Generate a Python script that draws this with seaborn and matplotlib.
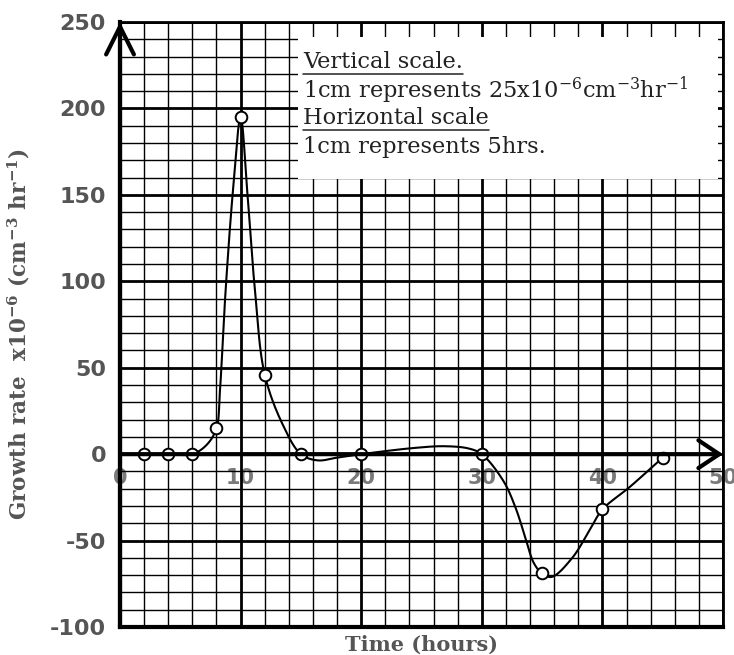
import numpy as np
import pandas as pd
import matplotlib
matplotlib.use("Agg")
import matplotlib.pyplot as plt
from matplotlib.lines import Line2D
import seaborn as sns

# measured points (hours, growth rate x10^-6)
time_h = [2, 4, 6, 8, 10, 12, 15, 20, 30, 35, 40, 45]
growth = [0, 0, 0, 15, 195, 46, 0, 0, 0, -69, -32, -2]

# hand-drawn curve (goes through the points)
curve_t = [2, 4, 6, 7.2, 8, 8.28, 8.75, 9.36, 10, 10.55, 11.2, 12, 13.5, 15, 16.4, 18, 20,
           24.4, 26.9, 28.9, 30, 31.8, 32.8, 33.6, 34.3, 35, 35.8, 37.5, 38.9, 40, 42.2, 45]
curve_g = [0, 0, 0, 5.5, 15, 36, 94, 152, 195, 152, 94, 46, 17, 0, -3.6, -2, 0,
           3.6, 4.6, 3.3, 0, -15.6, -31, -48, -62.8, -69, -71, -60, -44.5, -32, -19.4, -2]

xtick_labels = ["0", "10", "20", "30", "40", "50"]
yticks = [-100, -50, 0, 50, 100, 150, 200, 250]

note_lines = ["Vertical scale.",
              r"1cm represents 25x10$^{\mathregular{-6}}$cm$^{\mathregular{-3}}$hr$^{\mathregular{-1}}$",
              "Horizontal scale",
              "1cm represents 5hrs."]
note_underline = [True, False, True, False]


def smooth(px, py, n=25, yscale=1 / 7.0):
    # centripetal catmull-rom, just for drawing the hand curve smoothly
    pts = np.column_stack([np.asarray(px, float), np.asarray(py, float) * yscale])
    p = np.vstack([2 * pts[0] - pts[1], pts, 2 * pts[-1] - pts[-2]])
    out = []
    for i in range(1, len(p) - 2):
        p0, p1, p2, p3 = p[i - 1], p[i], p[i + 1], p[i + 2]
        t0 = 0.0
        t1 = t0 + np.linalg.norm(p1 - p0) ** 0.5
        t2 = t1 + np.linalg.norm(p2 - p1) ** 0.5
        t3 = t2 + np.linalg.norm(p3 - p2) ** 0.5
        t = np.linspace(t1, t2, n)[:, None]
        a1 = (t1 - t) / (t1 - t0) * p0 + (t - t0) / (t1 - t0) * p1
        a2 = (t2 - t) / (t2 - t1) * p1 + (t - t1) / (t2 - t1) * p2
        a3 = (t3 - t) / (t3 - t2) * p2 + (t - t2) / (t3 - t2) * p3
        b1 = (t2 - t) / (t2 - t0) * a1 + (t - t0) / (t2 - t0) * a2
        b2 = (t3 - t) / (t3 - t1) * a2 + (t - t1) / (t3 - t1) * a3
        c = (t2 - t) / (t2 - t1) * b1 + (t - t1) / (t2 - t1) * b2
        out.append(c)
    out = np.vstack(out)
    return out[:, 0], out[:, 1] / yscale


sns.set_theme(style="white")
plt.rcParams["axes.unicode_minus"] = False
plt.rcParams["mathtext.fontset"] = "dejavuserif"

fig = plt.figure(figsize=(7.34, 6.55), dpi=100)
ax = fig.add_axes([0.1635, 0.0427, 0.8215, 0.9237])

cx, cy = smooth(curve_t, curve_g)
df_curve = pd.DataFrame({"time": cx, "rate": cy})
df_pts = pd.DataFrame({"time": time_h, "rate": growth})

sns.lineplot(data=df_curve, x="time", y="rate", sort=False, estimator=None,
             color="black", lw=1.5, ax=ax, zorder=6)
sns.scatterplot(data=df_pts, x="time", y="rate", s=70, color="white",
                edgecolor="black", linewidth=1.4, ax=ax, zorder=7)

ax.set_xlim(0, 50)
ax.set_ylim(-100, 250)

# graph paper grid
ax.set_xticks(np.arange(0, 51, 10))
ax.set_xticks(np.arange(0, 51, 2), minor=True)
ax.set_yticks(yticks)
ax.set_yticks(np.arange(-100, 251, 10), minor=True)
ax.grid(which="major", color="black", lw=2.0, zorder=1)
ax.grid(which="minor", color="black", lw=1.0, zorder=1)
ax.set_axisbelow(True)
ax.tick_params(axis="x", which="both", length=0, labelbottom=False)
ax.tick_params(axis="y", which="major", length=4, width=2, color="black",
               direction="out", pad=6, labelsize=16, labelcolor="#555555")
ax.tick_params(axis="y", which="minor", length=0)
for lab in ax.get_yticklabels():
    lab.set_fontweight("bold")

for side in ["top", "right"]:
    ax.spines[side].set_linewidth(2)
    ax.spines[side].set_color("black")
for side in ["left", "bottom"]:
    ax.spines[side].set_linewidth(3)
    ax.spines[side].set_color("black")

# x tick labels sit under the zero line
sec = ax.secondary_xaxis(100 / 350)
sec.set_xticks(np.arange(0, 51, 10))
sec.set_xticklabels(xtick_labels, fontsize=15, fontweight="bold", color="#7a7a7a")
sec.tick_params(length=0, pad=10)
sec.spines["bottom"].set_visible(False)

# axes with arrows
ax.annotate("", xy=(0, 250), xytext=(0, -100),
            arrowprops=dict(arrowstyle="->,head_length=1.0,head_width=0.5",
                            lw=3, color="black", mutation_scale=20, shrinkA=0, shrinkB=0),
            zorder=8, annotation_clip=False)
ax.annotate("", xy=(50, 0), xytext=(0, 0),
            arrowprops=dict(arrowstyle="->,head_length=0.75,head_width=0.5",
                            lw=3, color="black", mutation_scale=20, shrinkA=0, shrinkB=0),
            zorder=8, annotation_clip=False)

ax.set_xlabel("Time (hours)", fontsize=15, fontweight="bold", color="#555555",
              family="DejaVu Serif")
ax.xaxis.set_label_coords(0.5, -0.013)
ax.xaxis.label.set_va("top")
ax.set_ylabel(r"Growth rate  x10$^{\mathregular{-6}}$ (cm$^{\mathregular{-3}}$ hr$^{\mathregular{-1}}$)",
              fontsize=15.5, fontweight="bold", color="#555555", family="DejaVu Serif")
ax.yaxis.set_label_coords(-0.146, 0.485)

# scale note box
ax.add_patch(plt.Rectangle((14.8, 159.4), 34.8, 82.0, facecolor="white",
                           edgecolor="none", zorder=3))
note_y = [227, 210.7, 194.6, 177.8]
texts = []
for s, yy in zip(note_lines, note_y):
    texts.append(ax.text(15.2, yy, s, fontsize=16.2, family="DejaVu Serif",
                         color="#222222", va="center", ha="left", zorder=4))

fig.canvas.draw()
rend = fig.canvas.get_renderer()
inv = fig.transFigure.inverted()
for t, ul in zip(texts, note_underline):
    if not ul:
        continue
    bb = t.get_window_extent(rend)
    (x0, y0), (x1, _) = inv.transform([(bb.x0, bb.y0 - 1), (bb.x1, bb.y0)])
    fig.add_artist(Line2D([x0, x1], [y0, y0], color="#222222", lw=1.1, zorder=5))

fig.savefig("out.png", dpi=100)
